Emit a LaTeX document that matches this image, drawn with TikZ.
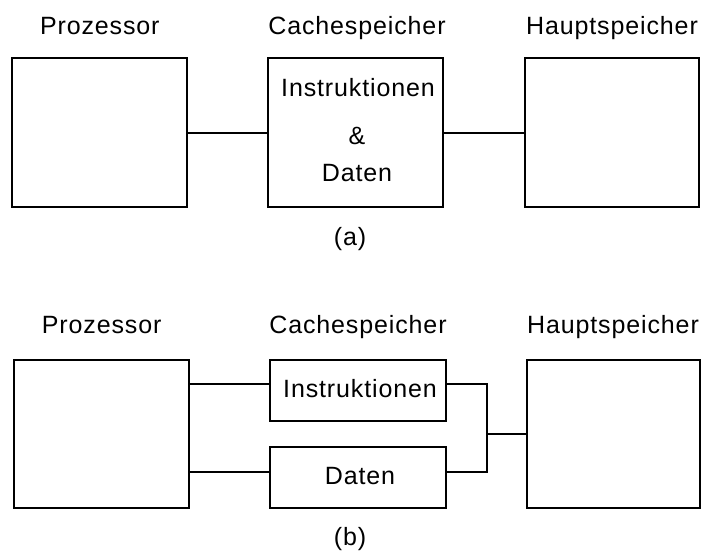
\documentclass[tikz,border=0pt]{standalone}
\usepackage{fontspec}
\setmainfont{Liberation Sans}[LetterSpace=3.5]
\begin{document}
\begin{tikzpicture}[x=1pt,y=-1pt,
  box/.style={draw, line width=2pt, inner sep=0pt, outer sep=0pt},
  conn/.style={line width=2pt},
  txt/.style={inner sep=0pt, anchor=base, font=\fontsize{25}{29}\selectfont}]
\useasboundingbox (0,0) rectangle (701,552);
% ---- (a) ----
\node[box, minimum width=175pt, minimum height=148.4pt] (P1) at (99.8,132.5) {};
\node[box, minimum width=175pt, minimum height=148.4pt] (C1) at (355.8,132.5) {};
\node[box, minimum width=174.3pt, minimum height=148.4pt] (H1) at (611.8,132.5) {};
\node[txt] (lp1) at (99.8,34) {Prozessor};
\node[txt] (lc1) at (357,34) {Cachespeicher};
\node[txt] (lh1) at (612,34) {Hauptspeicher};
\node[txt] (ti1) at (358,96) {Instruktionen};
\node[txt] (ta1) at (357,144.3) {\&};
\node[txt] (td1) at (357,181.7) {Daten};
\node[txt] (capa) at (350,245) {(a)};
\draw[conn] (P1.east) -- (C1.west);
\draw[conn] (C1.east) -- (H1.west);
% ---- (b) ----
\node[box, minimum width=175.3pt, minimum height=147.7pt] (P2) at (101.7,433.9) {};
\node[box, minimum width=176pt, minimum height=61pt] (I2) at (358,390.5) {};
\node[box, minimum width=176pt, minimum height=61pt] (D2) at (358,477.2) {};
\node[box, minimum width=173.6pt, minimum height=147.7pt] (H2) at (613.5,433.9) {};
\node[txt] (lp2) at (101.7,333) {Prozessor};
\node[txt] (lc2) at (358,333) {Cachespeicher};
\node[txt] (lh2) at (613,333) {Hauptspeicher};
\node[txt] (ti2) at (360,397.3) {Instruktionen};
\node[txt] (td2) at (360,484) {Daten};
\node[txt] (capb) at (350,545) {(b)};
\coordinate (ciw) at ([yshift=6.5pt]I2.west);
\coordinate (cie) at ([yshift=6.5pt]I2.east);
\coordinate (cdw) at ([yshift=5.5pt]D2.west);
\coordinate (cde) at ([yshift=5.5pt]D2.east);
\coordinate (j) at (486.7,433.9);
\draw[conn] (ciw) -- (ciw -| P2.east);
\draw[conn] (cdw) -- (cdw -| P2.east);
\draw[conn] (cie) -- (cie -| j) -- (cde -| j) -- (cde);
\draw[conn] (j) -- (H2.west);
\end{tikzpicture}
\end{document}
